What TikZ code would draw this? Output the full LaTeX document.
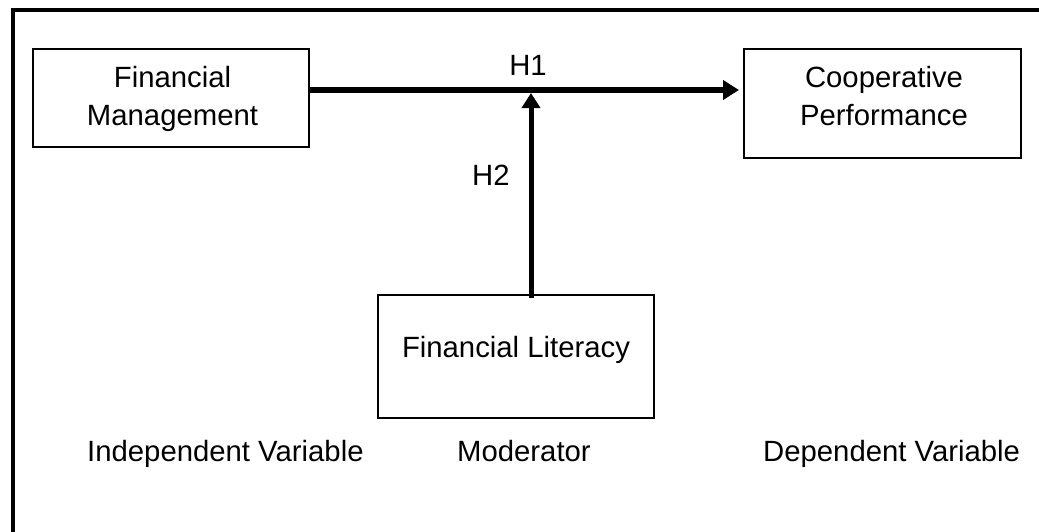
\documentclass[tikz,border=0pt]{standalone}
\usepackage{fontspec}
\setmainfont{Liberation Sans}
\usetikzlibrary{arrows.meta}
\begin{document}
\begin{tikzpicture}[x=1pt,y=-1pt,
  box/.style={draw=black,line width=2pt,rectangle,inner sep=0pt},
  lbl/.style={inner sep=0pt,font=\fontsize{29.3}{37}\selectfont,text=black},
  arr/.style={line width=5.5pt,-{Triangle[length=16pt,width=19pt]}},
  frame/.style={line width=3.2pt}]
\clip (0,0) rectangle (1039,531);
\fill[white] (0,0) rectangle (1039,531);
% outer frame (only top and left edges visible)
\coordinate (fr1) at (13,560);
\coordinate (fr2) at (13,10);
\coordinate (fr3) at (1060,10);
\draw[frame] (fr1) -- (fr2) -- (fr3);
% boxes
\node[box,minimum width=276pt,minimum height=98pt] (fm) at (171,98) {};
\node[box,minimum width=277pt,minimum height=109pt] (cp) at (882.5,103.5) {};
\node[box,minimum width=276pt,minimum height=123pt] (fl) at (516,356.5) {};
% box texts
\node[lbl,anchor=base] (fm1) at (172.5,87.5) {Financial};
\node[lbl,anchor=base] (fm2) at (172.5,125) {Management};
\node[lbl,anchor=base] (cp1) at (884,87.5) {Cooperative};
\node[lbl,anchor=base] (cp2) at (884,125) {Performance};
\node[lbl,anchor=base] (flt) at (516,357) {Financial Literacy};
% connectors
\coordinate (h1) at (531,90);
\draw[arr,shorten >=4pt] (fm.east |- h1) -- (cp.west |- h1);
\draw[line width=5pt,-{Triangle[length=15pt,width=18pt]},shorten >=3pt] ([yshift=-4pt]fl.north -| h1) -- (h1);
% hypothesis labels
\node[lbl,anchor=base] (lh1) at (528,75) {H1};
\node[lbl,anchor=base west] (lh2) at (472,185) {H2};
% bottom captions
\node[lbl,anchor=base west] (iv) at (87,461.5) {Independent Variable};
\node[lbl,anchor=base west] (mo) at (457,461.5) {Moderator};
\node[lbl,anchor=base west] (dv) at (763,461.5) {Dependent Variable};
\end{tikzpicture}
\end{document}
